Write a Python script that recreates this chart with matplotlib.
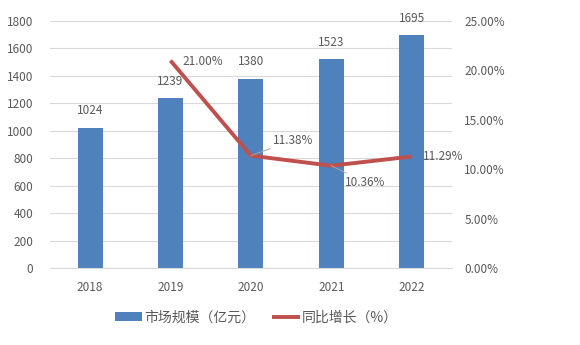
import matplotlib.pyplot as plt
from matplotlib.ticker import FuncFormatter

plt.rcParams['font.family'] = ['Noto Sans CJK SC', 'DejaVu Sans']

years = ['2018', '2019', '2020', '2021', '2022']
market = [1024, 1239, 1380, 1523, 1695]
growth_years = ['2019', '2020', '2021', '2022']
growth = [21.00, 11.38, 10.36, 11.29]

bar_color = '#4F81BD'
line_color = '#C0504D'
text_color = '#595959'

fig = plt.figure(figsize=(5.8, 3.45), dpi=100)
ax = fig.add_axes([0.086, 0.223, 0.693, 0.716])
ax2 = ax.twinx()

x = list(range(len(years)))
ax.bar(x, market, width=0.31, color=bar_color, zorder=2, label='市场规模（亿元）')
for xi, v in zip(x, market):
    ax.text(xi, v + 75, str(v), ha='center', va='bottom', fontsize=8.5, color=text_color)

ax.set_ylim(0, 1800)
ax.set_yticks(range(0, 1801, 200))
ax.set_xlim(-0.5, len(years) - 0.5)
ax.set_xticks(x)
ax.set_xticklabels(years)
ax.grid(axis='y', color='#D9D9D9', linewidth=0.8, zorder=0)
ax.set_axisbelow(True)

gx = [years.index(y) for y in growth_years]
ax2.plot(gx, growth, color=line_color, linewidth=2.8, solid_capstyle='butt',
         label='同比增长（%）')
ax2.set_ylim(0, 25)
ax2.set_yticks([0, 5, 10, 15, 20, 25])
ax2.yaxis.set_major_formatter(FuncFormatter(lambda v, p: f'{v:.2f}%'))

# growth labels; two of them sit on grey leader lines
lead = dict(arrowstyle='-', color='#A6A6A6', linewidth=0.7, shrinkA=0, shrinkB=0)
ax2.annotate(f'{growth[0]:.2f}%', (gx[0], growth[0]), xytext=(9, -1),
             textcoords='offset points', ha='left', va='center',
             fontsize=8.5, color=text_color)
ax2.annotate(f'{growth[1]:.2f}%', (gx[1], growth[1]), xytext=(16, 11),
             textcoords='offset points', ha='left', va='center',
             fontsize=8.5, color=text_color, arrowprops=lead)
ax2.annotate(f'{growth[2]:.2f}%', (gx[2], growth[2]), xytext=(10, -12),
             textcoords='offset points', ha='left', va='center',
             fontsize=8.5, color=text_color, arrowprops=lead)
ax2.annotate(f'{growth[3]:.2f}%', (gx[3], growth[3]), xytext=(8, 0),
             textcoords='offset points', ha='left', va='center',
             fontsize=8.5, color=text_color)

for a in (ax, ax2):
    for s in a.spines.values():
        s.set_visible(False)
    a.tick_params(length=0, labelsize=8.5, colors=text_color)
ax.spines['bottom'].set_visible(True)
ax.spines['bottom'].set_color('#D9D9D9')
ax.tick_params(axis='y', pad=12)
ax.tick_params(axis='x', pad=9)
ax2.tick_params(axis='y', pad=9)

h1, l1 = ax.get_legend_handles_labels()
h2, l2 = ax2.get_legend_handles_labels()
fig.legend(h1 + h2, l1 + l2, loc='center', bbox_to_anchor=(0.442, 0.08),
           ncol=2, frameon=False, fontsize=10, labelcolor=text_color,
           handlelength=2.0, handletextpad=0.15, columnspacing=1.2)

fig.savefig('out.png', dpi=100)
